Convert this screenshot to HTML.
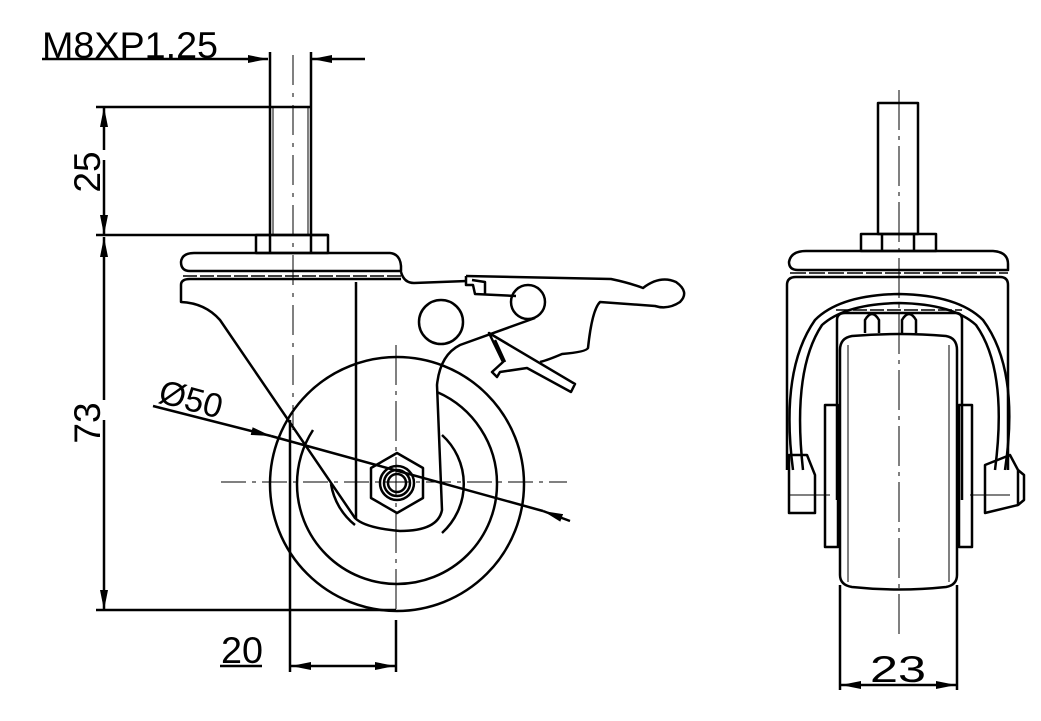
<!DOCTYPE html>
<html><head><meta charset="utf-8"><style>
html,body{margin:0;padding:0;background:#fff;}
svg{display:block}
text{font-family:"Liberation Sans",sans-serif;fill:#000;}
</style></head><body>
<svg width="1041" height="721" viewBox="0 0 1041 721" xmlns="http://www.w3.org/2000/svg">
<defs>
<marker id="ar" viewBox="0 0 20 8" refX="20" refY="4" markerWidth="20" markerHeight="8" markerUnits="userSpaceOnUse" orient="auto"><path d="M0,0 L20,4 L0,8 Z" fill="#000"/></marker>
</defs>
<g fill="none" stroke="#000" stroke-width="2.5" stroke-linejoin="round">
<!-- ===== LEFT VIEW ===== -->
<!-- M8 dim -->
<text x="42" y="58" font-size="37" stroke="none" textLength="176" lengthAdjust="spacingAndGlyphs">M8XP1.25</text>
<line x1="42" y1="59" x2="268" y2="59" marker-end="url(#ar)"/>
<line x1="365" y1="59" x2="312" y2="59" marker-end="url(#ar)"/>
<line x1="270" y1="52" x2="270" y2="235"/>
<line x1="311" y1="52" x2="311" y2="235"/>
<line x1="273" y1="107" x2="273" y2="235" stroke-width="1"/>
<line x1="308" y1="107" x2="308" y2="235" stroke-width="1"/>
<!-- 25 dim -->
<line x1="96" y1="107" x2="312" y2="107"/>
<line x1="96" y1="235" x2="328" y2="235"/>
<line x1="104" y1="150" x2="104" y2="107" marker-end="url(#ar)"/>
<line x1="104" y1="160" x2="104" y2="235" marker-end="url(#ar)"/>
<text transform="translate(100,172) rotate(-90)" font-size="37" text-anchor="middle" stroke="none">25</text>
<!-- 73 dim -->
<line x1="104" y1="400" x2="104" y2="237" marker-end="url(#ar)"/>
<line x1="104" y1="420" x2="104" y2="610" marker-end="url(#ar)"/>
<line x1="96" y1="610" x2="396" y2="610"/>
<text transform="translate(100,423) rotate(-90)" font-size="37" text-anchor="middle" stroke="none">73</text>
<!-- 20 dim -->
<line x1="290" y1="420" x2="290" y2="672"/>
<line x1="396" y1="620" x2="396" y2="672"/>
<line x1="220" y1="666" x2="262" y2="666"/>
<line x1="340" y1="666" x2="291" y2="666" marker-end="url(#ar)"/>
<line x1="340" y1="666" x2="395" y2="666" marker-end="url(#ar)"/>
<text x="221" y="663" font-size="37" stroke="none" textLength="42" lengthAdjust="spacingAndGlyphs">20</text>
<!-- centerlines -->
<line x1="293" y1="55" x2="293" y2="430" stroke-width="1" stroke-dasharray="30,8,4,8"/>
<line x1="221" y1="482" x2="567" y2="482" stroke-width="1" stroke-dasharray="25,6,4,6"/>
<line x1="396" y1="345" x2="396" y2="615" stroke-width="1" stroke-dasharray="40,6,4,6"/>
<!-- nut -->
<rect x="256" y="235" width="72" height="18"/>
<line x1="270" y1="235" x2="270" y2="253"/><line x1="311" y1="235" x2="311" y2="253"/>
<!-- top plate -->
<path d="M190,271 Q181,271 181,262 Q182,253 194,253 L390,253 Q400,254 401,266 L401,271 Z"/>
<line x1="183" y1="276" x2="401" y2="276" stroke-width="1.5" stroke-dasharray="14,3"/>
<!-- fork body -->
<path d="M401,272 Q404,283 414,283 L467,281"/>
<path d="M190,279 Q181,279 181,285 L181,302 Q205,303 220,320 L355,518 Q365,528 400,531 Q438,531 442,510 L437,385 Q440,355 460,345 L535,318"/>
<line x1="356" y1="282" x2="356" y2="518"/>
<line x1="190" y1="279" x2="401" y2="279"/>
<!-- circles of fork -->
<circle cx="441" cy="322" r="22"/>
<circle cx="528" cy="302" r="17"/>
<!-- lever -->
<path d="M466,276 L611,279 Q630,283 643,288 Q660,275 676,282 Q690,292 680,302 Q668,310 655,306 L600,302 Q592,310 588,348 Q586,352 562,354 Q548,360 540,362"/>
<path d="M466,276 L466,285 L473,285 L475,294 L516,296"/>
<path d="M472,280 L485,282 L485,294"/>
<!-- brake pedal -->
<path d="M489,333 L575,384 L571,392 L527,368 L500,372 L497,377 L492,372 L503,362 Z"/>
<path d="M495,340 L505,362"/>
<!-- wheel -->
<circle cx="397" cy="484" r="127"/>
<path d="M297,484 A100,100 0 0 0 497,484 A100,100 0 0 0 437,392"/>
<path d="M297,484 A100,100 0 0 1 313,430" />
<path d="M331,484 A66,66 0 0 0 355,525" />
<path d="M442,435 A66,66 0 0 1 442,533" />
<!-- hex -->
<polygon points="397,453 423,468 423,498 397,513 371,498 371,468"/>
<circle cx="397" cy="483" r="17"/>
<circle cx="397" cy="483" r="13"/>
<circle cx="397" cy="483" r="9"/>
<!-- Ø50 -->
<line x1="153" y1="406" x2="271" y2="436" marker-end="url(#ar)"/>
<line x1="271" y1="436" x2="543" y2="511"/>
<line x1="570" y1="521" x2="543" y2="511" marker-end="url(#ar)"/>
<text transform="translate(157,402) rotate(15)" font-size="34" stroke="none">Ø50</text>

<!-- ===== RIGHT VIEW ===== -->
<line x1="899" y1="90" x2="899" y2="640" stroke-width="1" stroke-dasharray="40,6,4,6"/>
<rect x="878" y="103" width="40" height="131"/>
<rect x="861" y="234" width="75" height="17"/>
<line x1="882" y1="234" x2="882" y2="251"/><line x1="914" y1="234" x2="914" y2="251"/>
<path d="M798,270 Q789,270 789,262 Q791,251 806,251 L993,251 Q1008,252 1008,264 L1008,270 Z"/>
<line x1="790" y1="273" x2="1008" y2="273" stroke-width="1.5" stroke-dasharray="16,3"/>
<path d="M787,470 L787,285 Q787,277 796,277 L1000,277 Q1008,277 1008,285 L1008,470"/>
<!-- bow -->
<path d="M793,470 Q780,370 815,320 Q840,295 899,294 Q958,295 983,320 Q1020,370 1005,470"/>
<path d="M803,470 Q792,370 822,325 Q845,304 899,303 Q953,304 976,325 Q1008,370 995,470"/>
<line x1="836" y1="310" x2="962" y2="310" stroke-width="1.5" stroke-dasharray="14,3"/>
<!-- inner fork -->
<path d="M837,500 L837,320 Q837,313 845,313 L956,313 Q962,313 962,320 L962,500"/>
<path d="M865,333 L865,320 Q872,308 879,320 L879,333"/>
<path d="M902,333 L902,320 Q909,308 916,320 L916,333"/>
<!-- wheel -->
<path d="M840,350 Q840,338 852,336 Q899,332 946,336 Q957,338 957,350 L957,575 Q957,585 946,587 Q899,592 852,587 Q840,585 840,575 Z"/>
<line x1="848" y1="345" x2="848" y2="582" stroke-width="1"/>
<line x1="949" y1="345" x2="949" y2="582" stroke-width="1"/>
<line x1="840" y1="585" x2="840" y2="690"/>
<line x1="957" y1="585" x2="957" y2="690"/>
<!-- axle plates -->
<rect x="825" y="405" width="13" height="142"/>
<rect x="959" y="405" width="13" height="142"/>
<!-- bolt heads -->
<path d="M789,455 L807,455 L815,475 L815,513 L789,513 Z"/>
<line x1="789" y1="495" x2="830" y2="495" stroke-width="1"/>
<path d="M985,465 L1010,455 L1018,470 L1018,505 L985,513 Z"/>
<path d="M1018,470 L1024,475 L1024,500 L1018,505"/>
<line x1="970" y1="495" x2="1010" y2="495" stroke-width="1"/>
<!-- 23 dim -->
<line x1="899" y1="685" x2="841" y2="685" marker-end="url(#ar)"/>
<line x1="899" y1="685" x2="956" y2="685" marker-end="url(#ar)"/>
<text x="870" y="682" font-size="37" stroke="none" textLength="56" lengthAdjust="spacingAndGlyphs">23</text>
</g>
</svg>
</body></html>
